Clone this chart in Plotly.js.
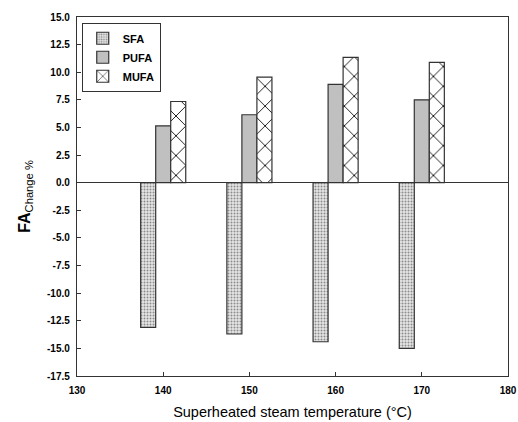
<!DOCTYPE html>
<html>
<head>
<meta charset="utf-8">
<script src="https://cdn.plot.ly/plotly-3.0.1.min.js"></script>
<style>html,body{margin:0;padding:0;background:#fff;}#chart{width:518px;height:422px;}</style>
</head>
<body>
<div id="chart"></div>
<script>
const temperatures = [140, 150, 160, 170];
const sfa = [-13.1, -13.7, -14.4, -15.0];
const pufa = [5.15, 6.15, 8.9, 7.5];
const mufa = [7.35, 9.55, 11.35, 10.9];
const seriesNames = ['SFA', 'PUFA', 'MUFA'];
const yTicks = [15, 12.5, 10, 7.5, 5, 2.5, 0, -2.5, -5, -7.5, -10, -12.5, -15, -17.5];
const xTicks = [130, 140, 150, 160, 170, 180];

const lineStyle = {color: '#333333', width: 1.2};
const traces = [
  {type: 'bar', name: seriesNames[0], x: temperatures, y: sfa,
   marker: {color: '#d4d4d4', line: lineStyle,
            pattern: {shape: '.', fgcolor: '#8c8c8c', bgcolor: '#e6e6e6', size: 3, solidity: 0.35}}},
  {type: 'bar', name: seriesNames[1], x: temperatures, y: pufa,
   marker: {color: '#c0c0c0', line: lineStyle}},
  {type: 'bar', name: seriesNames[2], x: temperatures, y: mufa,
   marker: {color: '#ffffff', line: lineStyle,
            pattern: {shape: 'x', fgcolor: '#000000', bgcolor: '#ffffff', size: 14, solidity: 0.12}}}
];

const layout = {
  width: 518, height: 422,
  margin: {l: 77, r: 10, t: 17, b: 46},
  paper_bgcolor: '#ffffff', plot_bgcolor: '#ffffff',
  font: {family: 'Liberation Sans, Arial, sans-serif', color: '#000000', size: 10},
  barmode: 'group', bargap: 0.477, bargroupgap: 0,
  showlegend: true,
  legend: {x: 0.011, y: 0.984, xanchor: 'left', yanchor: 'top',
           bordercolor: '#333333', borderwidth: 1, bgcolor: '#ffffff',
           font: {size: 11, weight: 'bold'}, tracegroupgap: 0},
  xaxis: {range: [130, 180], tickvals: xTicks, ticktext: xTicks.map(String),
          ticks: 'inside', ticklen: 4, tickcolor: '#333333',
          showline: true, linecolor: '#333333', linewidth: 1.2, mirror: true,
          showgrid: false, zeroline: false, ticklabelstandoff: 5,
          tickfont: {size: 10, weight: 'bold'},
          title: {text: 'Superheated steam temperature (°C)', font: {size: 14.5}, standoff: 11}},
  yaxis: {range: [-17.5, 15], tickvals: yTicks, ticktext: yTicks.map(v => v.toFixed(1)),
          ticks: 'inside', ticklen: 4, tickcolor: '#333333',
          showline: true, linecolor: '#333333', linewidth: 1.2, mirror: true,
          showgrid: false, zeroline: true, zerolinecolor: '#333333', zerolinewidth: 1,
          ticklabelstandoff: 4,
          tickfont: {size: 10, weight: 'bold'},
          title: {text: '<b>FA</b><sub>Change %</sub>', font: {size: 16}, standoff: 12}}
};

Plotly.newPlot('chart', traces, layout, {displayModeBar: false, staticPlot: true});
</script>
</body>
</html>
